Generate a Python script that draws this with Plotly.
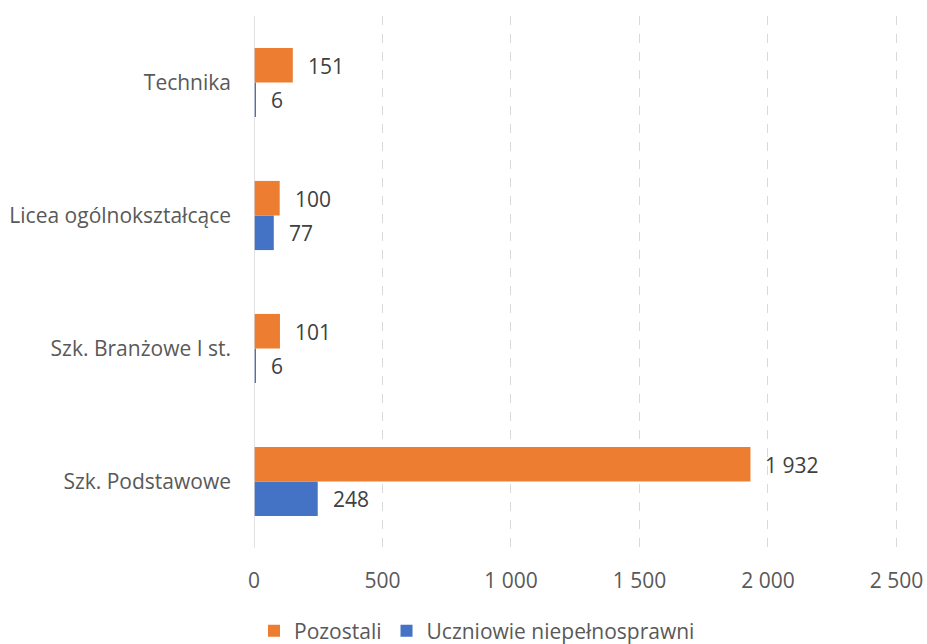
import plotly.graph_objects as go

categories = ["Szk. Podstawowe", "Szk. Branżowe I st.", "Licea ogólnokształcące", "Technika"]
pozostali = [1932, 101, 100, 151]
niepelnosprawni = [248, 6, 77, 6]
series_names = ["Pozostali", "Uczniowie niepełnosprawni"]
x_ticks = [0, 500, 1000, 1500, 2000, 2500]

ORANGE = "#ED7D31"
BLUE = "#4472C4"
FONT = "Open Sans"
FS = 21

def fmt(v):
    return f"{v:,}".replace(",", " ")

fig = go.Figure()
fig.add_trace(go.Bar(y=categories, x=niepelnosprawni, orientation="h", name=series_names[1],
                     marker=dict(color=BLUE, line=dict(width=0))))
fig.add_trace(go.Bar(y=categories, x=pozostali, orientation="h", name=series_names[0],
                     marker=dict(color=ORANGE, line=dict(width=0))))

for cat, v in zip(categories, pozostali):
    fig.add_annotation(x=v, y=cat, text=fmt(v), showarrow=False, xanchor="left",
                       yshift=17, xshift=13, font=dict(family=FONT, size=FS, color="#404040"))
for cat, v in zip(categories, niepelnosprawni):
    fig.add_annotation(x=v, y=cat, text=fmt(v), showarrow=False, xanchor="left",
                       yshift=-17, xshift=13, font=dict(family=FONT, size=FS, color="#404040"))

fig.update_layout(
    width=927, height=644,
    margin=dict(l=254, r=28, t=16, b=96, autoexpand=False),
    paper_bgcolor="white", plot_bgcolor="white",
    barmode="group", bargap=0.48, bargroupgap=0,
    separators=". ",
    font=dict(family=FONT, size=FS, color="#595959"),
    showlegend=True,
    legend=dict(orientation="h", traceorder="reversed", x=0.0, xanchor="left",
                yref="container", y=0.02, yanchor="middle",
                font=dict(family=FONT, size=FS, color="#595959"),
                itemwidth=30, tracegroupgap=0),
    xaxis=dict(range=[0, 2510], tickvals=x_ticks, tickformat=",d", automargin=False,
               showgrid=True, gridcolor="#D9D9D9", griddash="dash", gridwidth=1.3,
               zeroline=False, showline=False, ticks="", ticklabelstandoff=18,
               tickfont=dict(family=FONT, size=FS, color="#595959")),
    yaxis=dict(type="category", categoryorder="array", categoryarray=categories, automargin=False,
               showgrid=False, zeroline=False, showline=False, ticks="",
               ticklabelstandoff=22, tickfont=dict(family=FONT, size=FS, color="#595959")),
)
fig.add_shape(type="line", xref="x", yref="paper", x0=0, x1=0, y0=0, y1=1,
              line=dict(color="#D9D9D9", width=1.5))

fig.write_html(
    "out.html",
    config={"displayModeBar": False},
    post_script="document.body.style.margin='0';document.documentElement.style.overflow='hidden';document.body.style.overflow='hidden';",
)
